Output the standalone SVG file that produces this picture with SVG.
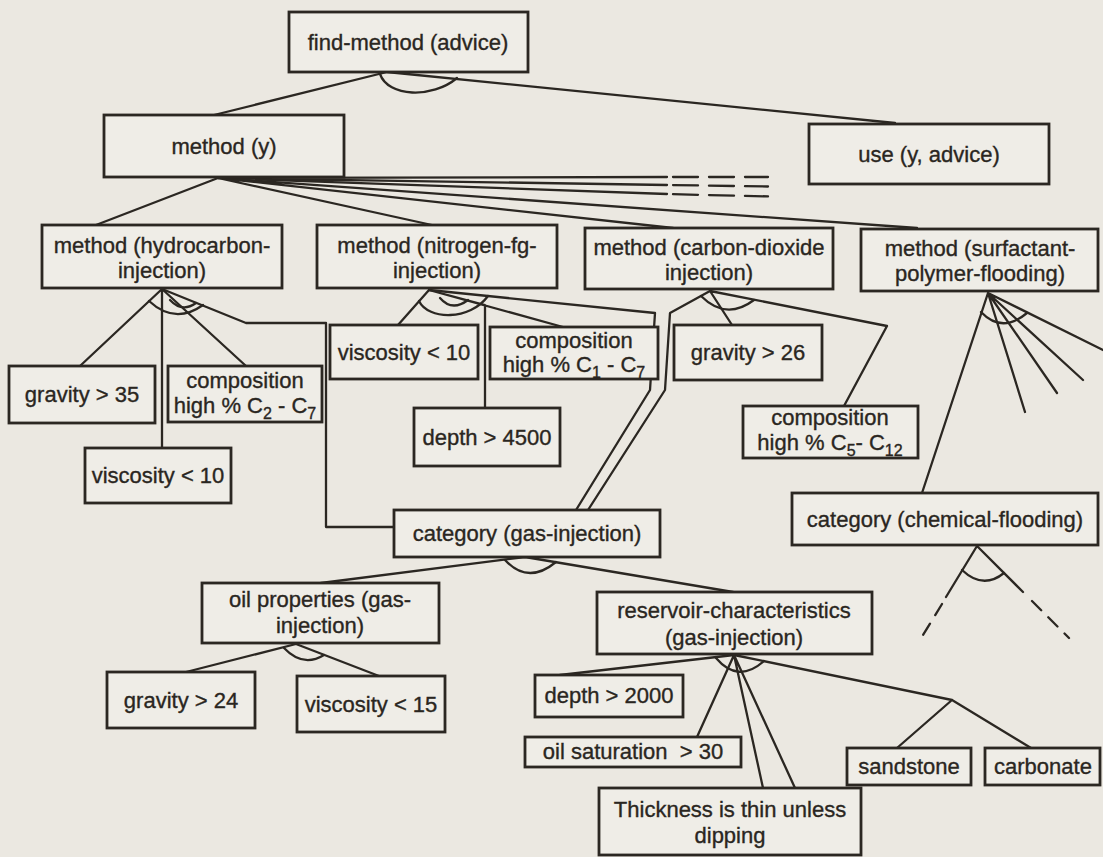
<svg xmlns="http://www.w3.org/2000/svg" width="1103" height="857" viewBox="0 0 1103 857">
<style>
.box{fill:#efede7;stroke:#2b2722;stroke-width:2.8}
.t{font-family:"Liberation Sans",Arial,sans-serif;font-size:22px;fill:#2a2621;stroke:#2a2621;stroke-width:0.35;text-anchor:middle}
.s{font-size:16px}
.c{fill:none;stroke:#2b2722;stroke-width:2.3;stroke-linejoin:round;stroke-linecap:round}
.d{stroke-dasharray:13 10}
.dd{stroke-dasharray:25 11}
</style>
<rect x="0" y="0" width="1103" height="857" fill="#ebe8e1"/>
<g id="connectors">
  <!-- find-method -->
  <path class="c" d="M387,72 L214,115 M387,72 L895,123"/>
  <path class="c" d="M380,74 C388,97 432,99 457,78"/>
  <!-- method (y) -->
  <path class="c" d="M218,178 L96,225 M218,178 L432,225 M218,178 L673,228 M218,178 L917,228"/>
  <path class="c" d="M218,178 L667,177 M218,178 L667,185 M218,178 L667,194"/>
  <path class="c dd" d="M673,177 L768,177 M673,185.1 L768,186.5 M673,194.2 L768,196.4"/>
  <!-- hydrocarbon -->
  <path class="c" d="M162,289 L80,366 M162,289 L162,448 M162,289 L246,366"/>
  <path class="c" d="M162,289 L246,323 L326,323 L326,527 L394,527"/>
  <path class="c" d="M149,301 Q175,325 203,305"/>
  <path class="c" d="M170,300 Q182,313 196,303"/>
  <!-- nitrogen -->
  <path class="c" d="M429,290 L398,325 M429,290 L485,305 L485,408 M429,290 L563,327"/>
  <path class="c" d="M429,290 L655,313 L650,390 L576,510"/>
  <path class="c" d="M419,301 C428,320 470,321 488,296"/>
  <path class="c" d="M440,298 Q452,312 468,300"/>
  <!-- carbon dioxide -->
  <path class="c" d="M710,291 L670,313 L665,390 L588,510"/>
  <path class="c" d="M710,291 L732,325 M710,291 L887,326 L844,406"/>
  <path class="c" d="M701,296 Q726,321 754,300"/>
  <!-- surfactant -->
  <path class="c" d="M988,293 L922,493 M988,293 L1025,412 M988,293 L1057,393 M988,293 L1083,380 M988,293 L1103,350"/>
  <path class="c" d="M981,312 Q1002,334 1027,313"/>
  <!-- category chemical-flooding -->
  <path class="c" d="M977,546 L946,597 M977,546 L1023,592"/>
  <path class="c d" d="M942,604 L920,640 M1032,601 L1069,638"/>
  <path class="c" d="M962,570 Q983,590 1004,573"/>
  <!-- category gas-injection -->
  <path class="c" d="M525,557 L321,583 M525,557 L733,592"/>
  <path class="c" d="M505,560 Q528,585 556,562"/>
  <!-- oil properties -->
  <path class="c" d="M296,644 L186,672 M296,644 L379,676"/>
  <path class="c" d="M284,648 Q303,668 324,655"/>
  <!-- reservoir -->
  <path class="c" d="M734,655 L560,675 M734,655 L697,737 M734,655 L763,788 M734,655 L795,788"/>
  <path class="c" d="M734,655 L952,700 L897,748 M952,700 L1031,748"/>
  <path class="c" d="M716,658 Q738,684 764,661"/>
</g>
<g id="find-method">
  <rect class="box" x="289" y="12" width="239" height="60"/>
  <text class="t" x="408" y="50">find-method (advice)</text>
</g>
<g id="method-y">
  <rect class="box" x="104" y="115" width="240" height="62"/>
  <text class="t" x="224" y="154">method (y)</text>
</g>
<g id="use">
  <rect class="box" x="809" y="124" width="240" height="60"/>
  <text class="t" x="929" y="162">use (y, advice)</text>
</g>
<g id="method-hydrocarbon">
  <rect class="box" x="42" y="225" width="240" height="63"/>
  <text class="t" x="162" y="253">method (hydrocarbon-<tspan x="162" y="278">injection)</tspan></text>
</g>
<g id="method-nitrogen">
  <rect class="box" x="317" y="225" width="240" height="63"/>
  <text class="t" x="437" y="253">method (nitrogen-fg-<tspan x="437" y="278">injection)</tspan></text>
</g>
<g id="method-co2">
  <rect class="box" x="585" y="228" width="248" height="61"/>
  <text class="t" x="709" y="255">method (carbon-dioxide<tspan x="709" y="280">injection)</tspan></text>
</g>
<g id="method-surfactant">
  <rect class="box" x="861" y="229" width="237" height="62"/>
  <text class="t" x="980" y="256">method (surfactant-<tspan x="980" y="281">polymer-flooding)</tspan></text>
</g>
<g id="gravity35">
  <rect class="box" x="9" y="366" width="146" height="57"/>
  <text class="t" x="82" y="402">gravity &gt; 35</text>
</g>
<g id="composition-c2c7">
  <rect class="box" x="168" y="366" width="154" height="56"/>
  <text class="t" x="245" y="388">composition</text>
  <text class="t" x="245" y="413">high % C<tspan class="s" dy="6">2</tspan><tspan dy="-6"> - C</tspan><tspan class="s" dy="6">7</tspan></text>
</g>
<g id="viscosity10-a">
  <rect class="box" x="85" y="448" width="146" height="55"/>
  <text class="t" x="158" y="483">viscosity &lt; 10</text>
</g>
<g id="viscosity10-b">
  <rect class="box" x="330" y="325" width="148" height="54"/>
  <text class="t" x="404" y="360">viscosity &lt; 10</text>
</g>
<g id="composition-c1c7">
  <rect class="box" x="490" y="327" width="168" height="52"/>
  <text class="t" x="574" y="348">composition</text>
  <text class="t" x="574" y="372">high % C<tspan class="s" dy="6">1</tspan><tspan dy="-6"> - C</tspan><tspan class="s" dy="6">7</tspan></text>
</g>
<g id="depth4500">
  <rect class="box" x="414" y="408" width="146" height="58"/>
  <text class="t" x="487" y="445">depth &gt; 4500</text>
</g>
<g id="gravity26">
  <rect class="box" x="674" y="325" width="148" height="55"/>
  <text class="t" x="748" y="360">gravity &gt; 26</text>
</g>
<g id="composition-c5c12">
  <rect class="box" x="743" y="406" width="175" height="52"/>
  <text class="t" x="830" y="425">composition</text>
  <text class="t" x="830" y="450">high % C<tspan class="s" dy="6">5</tspan><tspan dy="-6">- C</tspan><tspan class="s" dy="6">12</tspan></text>
</g>
<g id="category-gas">
  <rect class="box" x="394" y="510" width="266" height="47"/>
  <text class="t" x="527" y="541">category (gas-injection)</text>
</g>
<g id="category-chemical">
  <rect class="box" x="792" y="493" width="306" height="52"/>
  <text class="t" x="945" y="527">category (chemical-flooding)</text>
</g>
<g id="oil-properties">
  <rect class="box" x="202" y="583" width="237" height="60"/>
  <text class="t" x="320" y="607">oil properties (gas-<tspan x="320" y="633">injection)</tspan></text>
</g>
<g id="gravity24">
  <rect class="box" x="107" y="672" width="148" height="56"/>
  <text class="t" x="181" y="708">gravity &gt; 24</text>
</g>
<g id="viscosity15">
  <rect class="box" x="297" y="676" width="148" height="56"/>
  <text class="t" x="371" y="712">viscosity &lt; 15</text>
</g>
<g id="reservoir">
  <rect class="box" x="597" y="592" width="275" height="62"/>
  <text class="t" x="734" y="618">reservoir-characteristics<tspan x="734" y="645">(gas-injection)</tspan></text>
</g>
<g id="depth2000">
  <rect class="box" x="535" y="675" width="148" height="42"/>
  <text class="t" x="609" y="703">depth &gt; 2000</text>
</g>
<g id="oil-saturation">
  <rect class="box" x="525" y="737" width="216" height="30"/>
  <text class="t" x="633" y="759" xml:space="preserve">oil saturation  &gt; 30</text>
</g>
<g id="thickness">
  <rect class="box" x="599" y="788" width="262" height="67"/>
  <text class="t" x="730" y="817">Thickness is thin unless<tspan x="730" y="843">dipping</tspan></text>
</g>
<g id="sandstone">
  <rect class="box" x="847" y="748" width="124" height="37"/>
  <text class="t" x="909" y="774">sandstone</text>
</g>
<g id="carbonate">
  <rect class="box" x="985" y="748" width="115" height="37"/>
  <text class="t" x="1043" y="774">carbonate</text>
</g>
</svg>
